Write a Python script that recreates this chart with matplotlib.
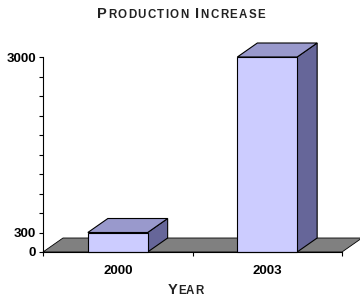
from matplotlib import pyplot
from matplotlib import patches

years = ['2000', '2003']
production = [300, 3000]
ytick_major = [0, 300, 3000]
ytick_minor = [600, 900, 1200, 1500, 1800, 2100, 2400, 2700]

pyplot.rcParams['font.family'] = ['Liberation Sans', 'DejaVu Sans']

FRONT = '#CCCCFF'
TOP = '#9999CC'
SIDE = '#666699'
FLOOR = '#808080'


def spaced_caps(fig, xc, yb, word, target_w, big=10.5, small=8.3, space_w=4):
    # fake small caps with letter spacing, centered on xc (pixels),
    # baseline at yb (pixels from top)
    r = fig.canvas.get_renderer()
    W, H = fig.bbox.width, fig.bbox.height
    texts, widths = [], []
    prev = ' '
    for ch in word:
        size = big if prev == ' ' else small
        prev = ch
        t = fig.text(0, 1 - yb / H, ch, fontsize=size, weight='bold',
                     color='#222222', ha='left', va='baseline')
        widths.append(space_w if ch == ' ' else t.get_window_extent(r).width)
        texts.append(t)
    gap = (target_w - sum(widths)) / (len(word) - 1)
    x = xc - target_w / 2
    for t, w in zip(texts, widths):
        t.set_x(x / W)
        x += w + gap


fig = pyplot.figure(figsize=(3.6, 2.99), dpi=100)
ax = fig.add_axes([43 / 360, 47 / 299, 299 / 360, 195 / 299])
ax.set_xlim(0, 2)
ax.set_ylim(0, 3000)

# depth offsets (pixels -> data)
dx = 20 / 299 * 2
dy = 14 / 195 * 3000

floor = patches.Polygon([(0, 0), (2, 0), (2 + dx, dy), (dx, dy)], closed=True,
                        facecolor=FLOOR, edgecolor='black', linewidth=0.6,
                        clip_on=False, zorder=1)
ax.add_patch(floor)

w = 0.4
for i, v in enumerate(production):
    x0 = i + 0.5 - w / 2
    x1 = i + 0.5 + w / 2
    side = patches.Polygon([(x1, 0), (x1 + dx, dy), (x1 + dx, v + dy), (x1, v)],
                           facecolor=SIDE, edgecolor='black', linewidth=0.8,
                           clip_on=False, zorder=2)
    top = patches.Polygon([(x0, v), (x1, v), (x1 + dx, v + dy), (x0 + dx, v + dy)],
                          facecolor=TOP, edgecolor='black', linewidth=0.8,
                          clip_on=False, zorder=2)
    front = patches.Rectangle((x0, 0), w, v, facecolor=FRONT, edgecolor='black',
                              linewidth=0.8, clip_on=False, zorder=3)
    ax.add_patch(side)
    ax.add_patch(top)
    ax.add_patch(front)

ax.spines['top'].set_visible(False)
ax.spines['right'].set_visible(False)
ax.spines['left'].set_zorder(5)
ax.spines['bottom'].set_zorder(5)
ax.patch.set_visible(False)

ax.set_yticks(ytick_major)
ax.set_yticklabels([str(t) for t in ytick_major], fontsize=9.5, weight='bold')
ax.set_yticks(ytick_minor, minor=True)
ax.tick_params(axis='y', which='both', direction='out', length=3, width=0.8, pad=2)

ax.set_xticks([0, 1, 2])
ax.set_xticklabels([])
ax.set_xticks([0.5, 1.5], minor=True)
ax.set_xticklabels(years, minor=True, fontsize=9.5, weight='bold')
ax.tick_params(axis='x', which='major', direction='out', length=3, width=0.8)
ax.tick_params(axis='x', which='minor', length=0, pad=9)

spaced_caps(fig, 181, 18.5, 'PRODUCTION INCREASE', 168)
spaced_caps(fig, 185.5, 293.5, 'YEAR', 35, big=10.5, small=8.3)

pyplot.savefig('out.png', dpi=100)
